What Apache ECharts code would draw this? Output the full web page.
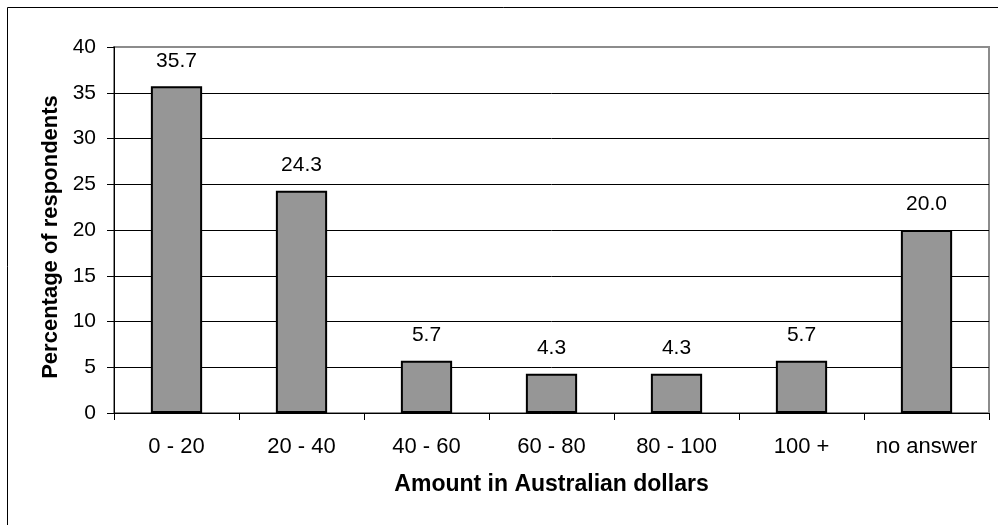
<!DOCTYPE html>
<html>
<head>
<meta charset="utf-8">
<script src="https://cdn.jsdelivr.net/npm/echarts@6/dist/echarts.min.js"></script>
<style>
  html, body { margin: 0; padding: 0; background: #fff; }
  #chart { width: 998px; height: 525px; }
</style>
</head>
<body>
<div id="chart"></div>
<script>
// Spending brackets and share of respondents in each
const categories = ['0 - 20', '20 - 40', '40 - 60', '60 - 80', '80 - 100', '100 +', 'no answer'];
const percentages = [35.7, 24.3, 5.7, 4.3, 4.3, 5.7, 20.0];
const yTicks = [0, 5, 10, 15, 20, 25, 30, 35, 40];

const FONT = '"Liberation Sans", Arial, sans-serif';

const chart = echarts.init(document.getElementById('chart'), null, { renderer: 'canvas' });

// top grid line takes the plot frame's grey, the rest are black
const splitColors = yTicks.map((t, i) => i === yTicks.length - 1 ? '#8c8c8c' : '#000');

chart.setOption({
  animation: false,
  backgroundColor: '#fff',
  textStyle: { fontFamily: FONT },
  graphic: [{
    type: 'rect',
    shape: { x: 7.5, y: 7.5, width: 1200, height: 800 },
    style: { fill: null, stroke: '#000', lineWidth: 1 },
    silent: true
  }],
  grid: {
    left: 114, top: 47, right: 9, bottom: 112,
    show: true,
    borderColor: '#8c8c8c',
    borderWidth: 2,
    backgroundColor: '#fff'
  },
  xAxis: {
    type: 'category',
    data: categories,
    name: 'Amount in Australian dollars',
    nameLocation: 'middle',
    nameGap: 60,
    nameTextStyle: { fontFamily: FONT, fontWeight: 'bold', fontSize: 23, color: '#000' },
    axisLine: { lineStyle: { color: '#000', width: 1 } },
    axisTick: { show: true, length: 7, interval: 0, alignWithLabel: false, lineStyle: { color: '#000' } },
    axisLabel: { fontFamily: FONT, fontSize: 22, color: '#000', margin: 23, interval: 0, hideOverlap: false },
    splitLine: { show: false }
  },
  yAxis: {
    type: 'value',
    min: 0, max: 40, interval: 5,
    name: 'Percentage of respondents',
    nameLocation: 'middle',
    nameGap: 52,
    nameRotate: 90,
    nameTextStyle: { fontFamily: FONT, fontWeight: 'bold', fontSize: 22, color: '#000', padding: [0, 14, 0, 0] },
    axisLine: { show: true, lineStyle: { color: '#000', width: 1 } },
    axisTick: { show: true, length: 7, lineStyle: { color: '#000' } },
    axisLabel: { fontFamily: FONT, fontSize: 21, color: '#000', margin: 18 },
    splitLine: { show: true, lineStyle: { color: splitColors, width: 1 } }
  },
  series: [{
    type: 'bar',
    data: percentages,
    barWidth: '41%',
    itemStyle: { color: '#969696', borderColor: '#000', borderWidth: 2 },
    label: {
      show: true,
      position: 'top',
      distance: 15,
      fontFamily: FONT,
      fontSize: 21,
      color: '#000',
      formatter: p => p.value.toFixed(1)
    }
  }]
});
</script>
</body>
</html>
